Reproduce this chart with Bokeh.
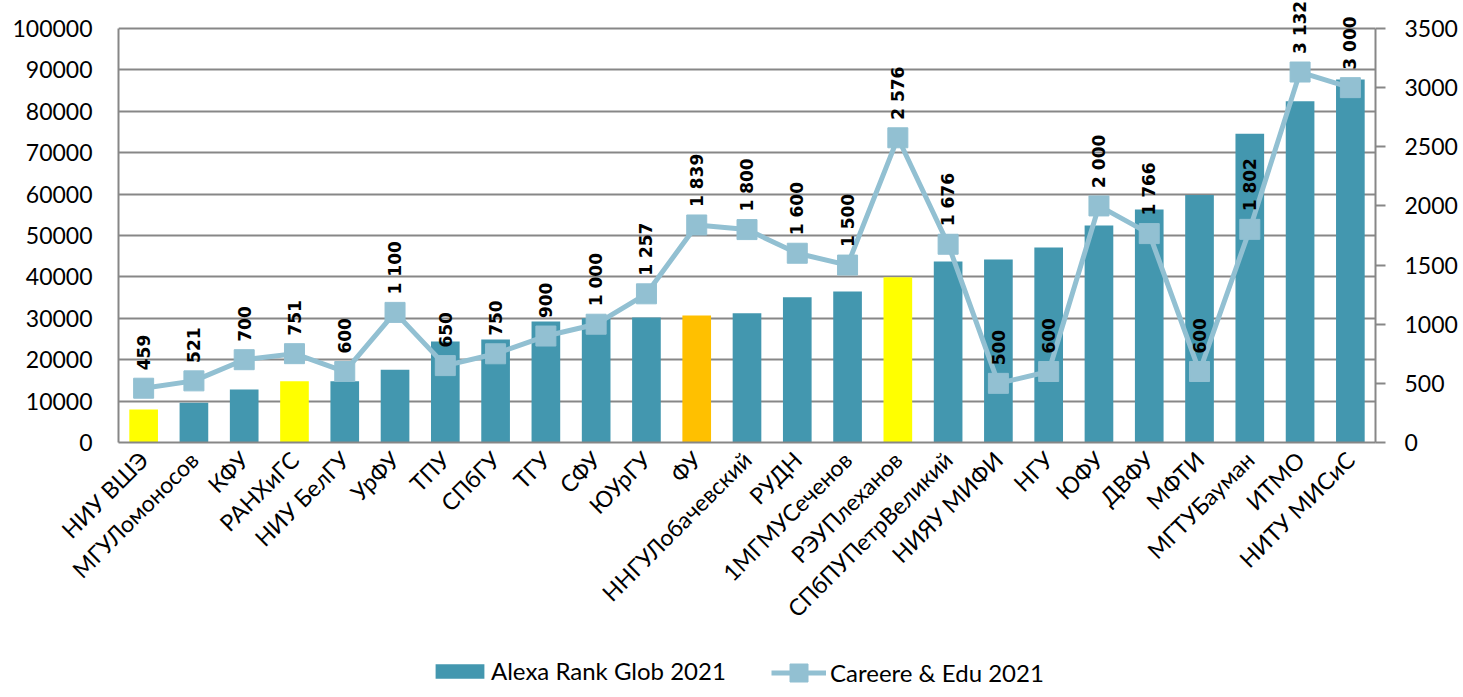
import math
from bokeh.plotting import figure
from bokeh.layouts import column
from bokeh.models import (Range1d, LinearAxis, FixedTicker, NumeralTickFormatter,
                          ColumnDataSource, Legend, LegendItem, FactorRange, LabelSet)
from bokeh.core.properties import value
from bokeh.embed import file_html
from bokeh.resources import INLINE

categories = ["НИУ ВШЭ", "МГУЛомоносов", "КФУ", "РАНХиГС", "НИУ БелГУ", "УрФУ", "ТПУ",
              "СПбГУ", "ТГУ", "СФУ", "ЮУрГУ", "ФУ", "ННГУЛобачевский", "РУДН",
              "1МГМУСеченов", "РЭУПлеханов", "СПбПУПетрВеликий", "НИЯУ МИФИ", "НГУ",
              "ЮФУ", "ДВФУ", "МФТИ", "МГТУБауман", "ИТМО", "НИТУ МИСиС"]
alexa_rank = [8000, 9600, 12800, 14800, 14800, 17600, 24400, 24900, 29200, 30000, 30200,
              30700, 31200, 35100, 36500, 39900, 43700, 44200, 47100, 52400, 56300, 59800,
              74600, 82400, 87700]
careere_edu = [459, 521, 700, 751, 600, 1100, 650, 750, 900, 1000, 1257, 1839, 1800, 1600,
               1500, 2576, 1676, 500, 600, 2000, 1766, 600, 1802, 3132, 3000]
highlight = {"НИУ ВШЭ": "#FFFF00", "РАНХиГС": "#FFFF00", "РЭУПлеханов": "#FFFF00",
             "ФУ": "#FFC000"}
left_ticks = list(range(0, 100001, 10000))
right_ticks = list(range(0, 3501, 500))
series_names = ["Alexa Rank Glob 2021", "Careere & Edu 2021"]

TEAL = "#4397AF"
LIGHT = "#92C0D2"
GRAY = "#878787"
TICK_FONT = "Lato"

# frame reaches the canvas top so the data labels above the axis top are not clipped;
# the axes themselves are bounded at their maxima
PLOT_H = 414
TOP_PAD = 28
left_max = left_ticks[-1]
right_max = right_ticks[-1]
left_end = left_max * (PLOT_H + TOP_PAD) / PLOT_H
right_end = right_max * (PLOT_H + TOP_PAD) / PLOT_H

def fmt(v):
    s = str(v)
    return s if len(s) < 4 else s[:-3] + "\u00a0" + s[-3:]

bar_colors = [highlight.get(c, TEAL) for c in categories]
bar_src = ColumnDataSource(dict(x=categories, top=alexa_rank, color=bar_colors))
line_src = ColumnDataSource(dict(x=categories, y=careere_edu,
                                 label=[fmt(v) for v in careere_edu]))

x_range = FactorRange(*categories, range_padding=0)
p = figure(width=1460, height=649, x_range=x_range,
           y_range=Range1d(0, left_end), output_backend="svg", toolbar_location=None,
           min_border_left=118, min_border_right=60, min_border_top=0,
           min_border_bottom=207)
p.outline_line_color = None
p.extra_y_ranges = {"right": Range1d(0, right_end)}

p.vbar(x="x", top="top", width=0.57, fill_color="color", line_color=None, source=bar_src)
p.line(x="x", y="y", line_color=LIGHT, line_width=5, y_range_name="right", source=line_src)
p.scatter(x="x", y="y", marker="square", size=20, fill_color=LIGHT, line_color=LIGHT,
          y_range_name="right", source=line_src)
labels = LabelSet(x="x", y="y", text="label", y_range_name="right", source=line_src,
                  angle=math.pi / 2, text_align="left", text_baseline="middle",
                  y_offset=18, text_font=value("DejaVu Sans"), text_font_style="bold",
                  text_font_size="17px", text_color="#000000")
p.add_layout(labels)

# left axis
yax = p.yaxis[0]
yax.ticker = FixedTicker(ticks=left_ticks)
yax.formatter = NumeralTickFormatter(format="0")
yax.bounds = (0, left_max)
yax.axis_line_color = GRAY
yax.axis_line_width = 2
yax.major_tick_line_color = None
yax.minor_tick_line_color = None
yax.major_tick_out = 0
yax.major_label_standoff = 26
yax.major_label_text_font = TICK_FONT
yax.major_label_text_font_size = "23px"
yax.major_label_text_color = "#000000"

# right axis
rax = LinearAxis(y_range_name="right", ticker=FixedTicker(ticks=right_ticks),
                 formatter=NumeralTickFormatter(format="0"), bounds=(0, right_max))
rax.axis_line_color = GRAY
rax.axis_line_width = 2
rax.major_tick_line_color = GRAY
rax.major_tick_line_width = 2
rax.major_tick_in = 0
rax.major_tick_out = 10
rax.minor_tick_line_color = None
rax.major_label_standoff = 19
rax.major_label_text_font = TICK_FONT
rax.major_label_text_font_size = "23px"
rax.major_label_text_color = "#000000"
p.add_layout(rax, "right")

# x axis
xax = p.xaxis[0]
xax.axis_line_color = GRAY
xax.axis_line_width = 2
xax.major_tick_line_color = None
xax.minor_tick_line_color = None
xax.major_tick_out = 0
xax.major_label_orientation = math.pi / 4
xax.major_label_standoff = 13
xax.major_label_text_font = TICK_FONT
xax.major_label_text_font_size = "23px"
xax.major_label_text_color = "#000000"

p.xgrid.visible = False
p.ygrid.grid_line_color = GRAY
p.ygrid.grid_line_width = 2
p.ygrid.ticker = FixedTicker(ticks=left_ticks)

# legend strip below the chart: same series drawn far out of view, only the legends show
lg = figure(width=1460, height=40, x_range=x_range, y_range=Range1d(2e5, 2e5 + 1),
            x_axis_type=None, y_axis_type=None, output_backend="svg",
            toolbar_location=None, min_border=0)
lg.outline_line_color = None
lb = lg.vbar(x="x", top="top", width=0.57, fill_color="color", line_color=None,
             source=bar_src)
ll = lg.line(x="x", y="y", line_color=LIGHT, line_width=5, source=line_src)
lm = lg.scatter(x="x", y="y", marker="square", size=20, fill_color=LIGHT,
                line_color=LIGHT, source=line_src)

common = dict(orientation="horizontal", padding=0, margin=0, border_line_color=None,
              background_fill_alpha=0, label_text_font=TICK_FONT,
              label_text_font_size="24px", label_text_color="#000000")
legend1 = Legend(items=[LegendItem(label=series_names[0], renderers=[lb], index=1)],
                 location=(311, 4), glyph_width=61, glyph_height=18, label_standoff=1,
                 **common)
legend2 = Legend(items=[LegendItem(label=series_names[1], renderers=[ll, lm])],
                 location=(653, -6), glyph_width=55, glyph_height=45, label_standoff=4,
                 **common)
lg.add_layout(legend1, "center")
lg.add_layout(legend2, "center")

open("out.html", "w").write(file_html(column(p, lg, spacing=0), INLINE))
